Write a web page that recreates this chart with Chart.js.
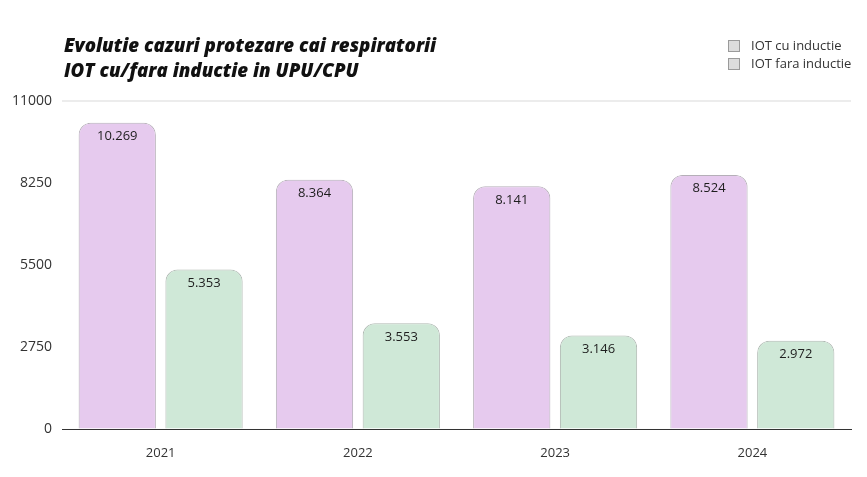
<!DOCTYPE html>
<html>
<head>
<meta charset="utf-8">
<script src="https://cdn.jsdelivr.net/npm/chart.js@4"></script>
<style>
  html, body { margin:0; padding:0; background:#fff; }
  #wrap { position:relative; width:867px; height:477px; }
  canvas { display:block; }
</style>
</head>
<body>
<div id="wrap"><canvas id="grafic" width="867" height="477"></canvas></div>
<script>
const ani = ['2021', '2022', '2023', '2024'];
const cuInductie = [10269, 8364, 8141, 8524];
const faraInductie = [5353, 3553, 3146, 2972];
const ticksY = [0, 2750, 5500, 8250, 11000];
const titlu = ['Evolutie cazuri protezare cai respiratorii', 'IOT cu/fara inductie in UPU/CPU'];

// etichete cu valori in interiorul barelor
const eticheteBare = {
  id: 'eticheteBare',
  afterDatasetsDraw(chart) {
    const ctx = chart.ctx;
    ctx.save();
    ctx.font = '13px "Open Sans", sans-serif';
    ctx.fillStyle = '#1e1e1e';
    ctx.textAlign = 'center';
    ctx.textBaseline = 'top';
    chart.data.datasets.forEach((ds, i) => {
      chart.getDatasetMeta(i).data.forEach((bar, j) => {
        const txt = ds.data[j].toLocaleString('de-DE');
        ctx.fillText(txt, bar.x, bar.y + 7);
      });
    });
    ctx.restore();
  }
};

// titlu + legenda desenate manual
const antet = {
  id: 'antet',
  afterDraw(chart) {
    const ctx = chart.ctx;
    ctx.save();
    ctx.fillStyle = '#111';
    ctx.textBaseline = 'alphabetic';
    ctx.font = 'italic 800 17px "Open Sans", sans-serif';
    const w = ctx.measureText(titlu[0]).width;
    const sz = Math.min(19, 17 * 373 / w);
    ctx.font = `italic 800 ${sz.toFixed(1)}px "Open Sans", sans-serif`;
    ctx.fillText(titlu[0], 64, 52);
    ctx.fillText(titlu[1], 64, 77);

    ctx.font = '13px "Open Sans", sans-serif';
    ctx.textBaseline = 'middle';
    chart.data.datasets.forEach((ds, i) => {
      const y = 46 + i * 18;
      ctx.fillStyle = '#dcdcdc';
      ctx.strokeStyle = '#9a9a9a';
      ctx.lineWidth = 1;
      ctx.fillRect(728, y - 6, 12, 12);
      ctx.strokeRect(728.5, y - 5.5, 11, 11);
      ctx.fillStyle = '#333';
      ctx.fillText(ds.label, 751, y);
    });
    ctx.restore();
  }
};

new Chart(document.getElementById('grafic'), {
  type: 'bar',
  data: {
    labels: ani,
    datasets: [{
      label: 'IOT cu inductie',
      data: cuInductie,
      backgroundColor: '#e6caee',
      borderColor: 'rgba(120,110,125,0.55)',
      borderWidth: 1,
      borderSkipped: 'bottom',
      borderRadius: {topLeft: 12, topRight: 12, bottomLeft: 0, bottomRight: 0}
    }, {
      label: 'IOT fara inductie',
      data: faraInductie,
      backgroundColor: '#cfe8d7',
      borderColor: 'rgba(110,125,115,0.55)',
      borderWidth: 1,
      borderSkipped: 'bottom',
      borderRadius: {topLeft: 12, topRight: 12, bottomLeft: 0, bottomRight: 0}
    }]
  },
  options: {
    responsive: false,
    animation: false,
    layout: { padding: {left: 2, right: 16, top: 101, bottom: 8} },
    datasets: { bar: { categoryPercentage: 0.88, barPercentage: 0.89 } },
    plugins: {
      title: { display: false },
      legend: { display: false },
      tooltip: { enabled: false }
    },
    scales: {
      x: {
        grid: { display: false },
        border: { color: '#333', width: 1 },
        ticks: { color: '#333', font: { family: '"Open Sans", sans-serif', size: 13 }, padding: 8 }
      },
      y: {
        min: 0, max: 11000,
        afterBuildTicks: ax => { ax.ticks = ticksY.map(v => ({value: v})); },
        grid: {
          drawTicks: false,
          color: c => c.tick && c.tick.value === 11000 ? '#ececec' : 'rgba(0,0,0,0)',
          lineWidth: 2
        },
        border: { display: false },
        ticks: {
          color: '#333',
          font: { family: '"Open Sans", sans-serif', size: 14 },
          padding: 10,
          callback: v => String(v)
        }
      }
    }
  },
  plugins: [eticheteBare, antet]
});
</script>
</body>
</html>
